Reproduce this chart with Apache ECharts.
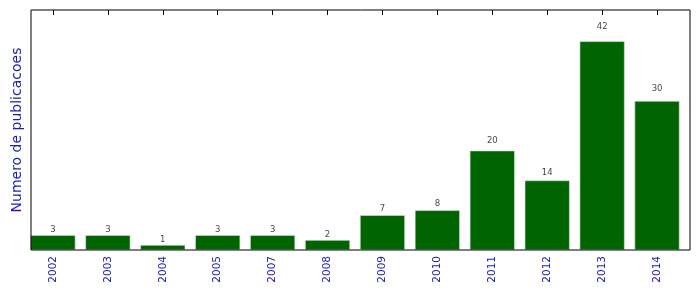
<!DOCTYPE html>
<html><head><meta charset="utf-8">
<script src="https://cdn.jsdelivr.net/npm/echarts@6/dist/echarts.min.js"></script>
<style>html,body{margin:0;padding:0;background:#fff}#c{width:699px;height:292px}</style>
</head><body><div id="c"></div>
<script>
const years = ['2002','2003','2004','2005','2007','2008','2009','2010','2011','2012','2013','2014'];
const counts = [3,3,1,3,3,2,7,8,20,14,42,30];
const yMax = 48.3;
const blue = '#1c1cb0';
const font = 'DejaVu Sans';
const chart = echarts.init(document.getElementById('c'), null, {renderer:'canvas'});
chart.setOption({
  animation:false,
  textStyle:{fontFamily:font},
  grid:[
    {left:31,right:9,top:10,bottom:42,show:true,borderColor:'#000',borderWidth:1,backgroundColor:'transparent',z:10,outerBoundsMode:'none',containLabel:false},
    {left:25.5,right:14.5,top:10,bottom:42,outerBoundsMode:'none',containLabel:false}
  ],
  xAxis:[
    {gridIndex:1,type:'category',data:years,position:'bottom',boundaryGap:true,
     axisLine:{show:false},
     axisTick:{show:true,inside:true,length:5,alignWithLabel:true,lineStyle:{color:'#000'}},
     axisLabel:{rotate:90,color:blue,fontSize:10.5,fontFamily:font,margin:6}},
    {gridIndex:1,type:'category',data:years,position:'top',boundaryGap:true,
     axisLine:{show:false},
     axisTick:{show:true,inside:true,length:5,alignWithLabel:true,lineStyle:{color:'#000'}},
     axisLabel:{show:false}},
    {gridIndex:0,type:'value',show:false}
  ],
  yAxis:[
    {gridIndex:1,type:'value',min:0,max:yMax,axisLine:{show:false},axisTick:{show:false},
     axisLabel:{show:false},splitLine:{show:false},
     name:'Numero de publicacoes',nameLocation:'middle',nameGap:1.5,
     nameTextStyle:{color:blue,fontSize:14,fontFamily:font}},
    {gridIndex:0,type:'value',show:false}
  ],
  series:[{
    type:'bar',xAxisIndex:0,yAxisIndex:0,data:counts,barWidth:45,
    itemStyle:{color:'#006400',borderColor:'#d8e8d8',borderWidth:0.6}
  },{
    type:'scatter',xAxisIndex:0,yAxisIndex:0,symbolSize:0,silent:true,
    data:counts.map(v=>({value:v*1.05,raw:v})),
    label:{show:true,position:'top',distance:0,color:'#111',fontSize:8.5,fontFamily:font,
      formatter:p=>String(p.data.raw)}
  }]
});
</script></body></html>
